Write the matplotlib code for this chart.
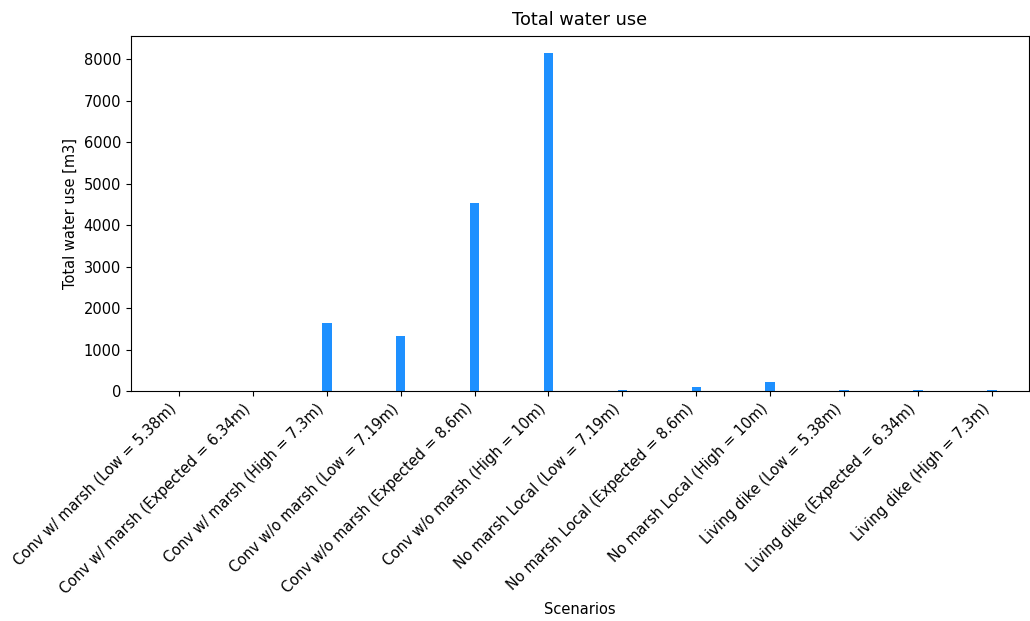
import matplotlib
matplotlib.use("Agg")
import matplotlib.pyplot as plt
import numpy as np

scenarios = [
    "Conv w/ marsh (Low = 5.38m)",
    "Conv w/ marsh (Expected = 6.34m)",
    "Conv w/ marsh (High = 7.3m)",
    "Conv w/o marsh (Low = 7.19m)",
    "Conv w/o marsh (Expected = 8.6m)",
    "Conv w/o marsh (High = 10m)",
    "No marsh Local (Low = 7.19m)",
    "No marsh Local (Expected = 8.6m)",
    "No marsh Local (High = 10m)",
    "Living dike (Low = 5.38m)",
    "Living dike (Expected = 6.34m)",
    "Living dike (High = 7.3m)",
]
water_use = [0, 0, 1635, 1320, 4540, 8150, 30, 100, 215, 30, 30, 30]

plt.rcParams["font.size"] = 10.5
fig = plt.figure(figsize=(10.30, 6.21), dpi=100)
ax = fig.add_axes([0.127, 0.370, 0.872, 0.572])
x = np.arange(len(scenarios))
ax.bar(x, water_use, width=0.13, color="#1e90ff")
ax.set_xticks(x)
ax.set_xticklabels(scenarios, rotation=45, ha="right")
ax.set_xlim(-0.65, 11.5)
ax.set_title("Total water use", fontsize=12.8, pad=8)
ax.set_xlabel("Scenarios")
ax.set_ylabel("Total water use [m3]")
fig.savefig("out.png", dpi=100)
